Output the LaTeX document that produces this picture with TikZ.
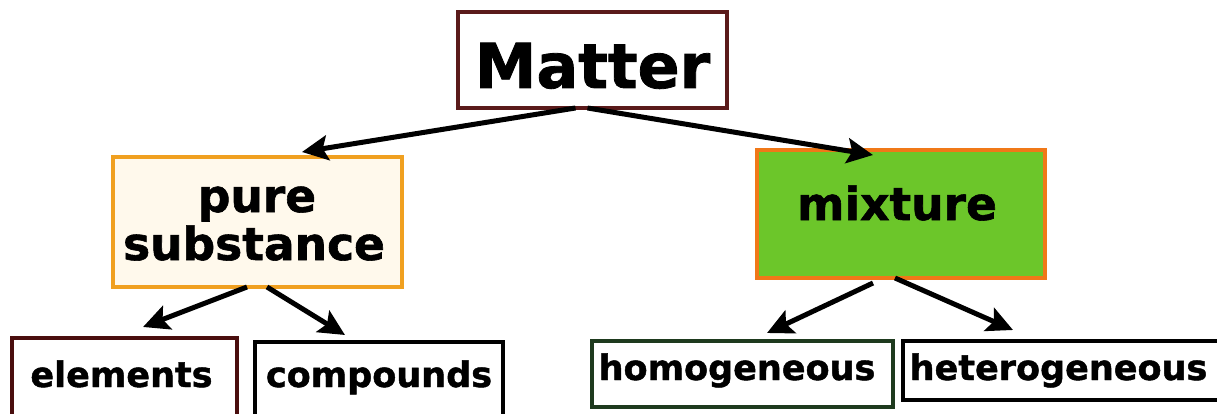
\documentclass[tikz,border=0pt]{standalone}
\usepackage{fontspec}
\setmainfont{DejaVu Sans}[BoldFeatures={FakeBold=1.3}]
\usetikzlibrary{arrows.meta,calc}
\definecolor{mattered}{HTML}{5A1A1A}
\definecolor{pureborder}{HTML}{F0A020}
\definecolor{purefill}{HTML}{FFF9EC}
\definecolor{mixfill}{HTML}{6CC62A}
\definecolor{mixborder}{HTML}{F07818}
\definecolor{elemborder}{HTML}{4A0E0E}
\definecolor{homborder}{HTML}{1E3A1E}
\tikzset{
  box/.style={rectangle, inner sep=0pt, outer sep=0pt, line width=3.6pt},
  bigtxt/.style={anchor=base, inner sep=0pt, font=\fontsize{62}{62}\selectfont\bfseries},
  midtxt/.style={anchor=base, inner sep=0pt, font=\fontsize{45.5}{45.5}\selectfont\bfseries},
  smalltxt/.style={anchor=base, inner sep=0pt, font=\fontsize{35}{35}\selectfont\bfseries},
  arr/.style={line width=5pt, -{Stealth[length=26pt,width=25pt,inset=5pt]}}
}
\begin{document}
\begin{tikzpicture}[x=1pt,y=-1pt]
\useasboundingbox (0,0) rectangle (1217,414);
\fill[white] (0,0) rectangle (1217,414);
% boxes
\node[box, draw=mattered, fill=white, minimum width=269pt, minimum height=96pt] (matter) at (592.5,60) {};
\node[box, draw=pureborder, fill=purefill, minimum width=289pt, minimum height=130pt] (pure) at (257.5,222) {};
\node[box, draw=mixborder, fill=mixfill, minimum width=288pt, minimum height=128pt] (mixture) at (901,214) {};
\node[box, draw=elemborder, fill=white, minimum width=225pt, minimum height=92pt] (elements) at (124.5,384) {};
\node[box, draw=black, fill=white, minimum width=248pt, minimum height=88pt] (compounds) at (379,386) {};
\node[box, draw=homborder, fill=white, minimum width=301pt, minimum height=66pt] (homog) at (742.5,374) {};
\node[box, draw=black, fill=white, minimum width=327pt, minimum height=59pt] (heterog) at (1066.5,370.5) {};
% texts
\node[bigtxt] (tmatter) at (592.5,88) {Matter};
\node[midtxt] (tpure) at (257,212) {pure};
\node[midtxt] (tsubst) at (254,260) {substance};
\node[midtxt] (tmix) at (897,220) {mixture};
\node[smalltxt] (telem) at (121.5,387) {elements};
\node[smalltxt] (tcomp) at (379,387) {compounds};
\node[smalltxt] (thom) at (737,380) {homogeneous};
\node[smalltxt] (thet) at (1058.5,380) {heterogeneous};
% connectors
\draw[arr] ($(matter.south)+(-17,0)$) -- ($(pure.north)+(44.5,-5)$);
\draw[arr] ($(matter.south)+(-5,0)$) -- ($(mixture.north)+(-28,5)$);
\draw[arr] ($(pure.south)+(-10.5,0)$) -- ($(elements.north)+(18.5,-11)$);
\draw[arr] ($(pure.south)+(9.5,0)$) -- ($(compounds.north)+(-34,-7)$);
\draw[arr] ($(mixture.south)+(-28,5)$) -- ($(homog.north)+(24.5,-8)$);
\draw[arr] ($(mixture.south)+(-6,0)$) -- ($(heterog.north)+(-53.5,-11)$);
\end{tikzpicture}
\end{document}
